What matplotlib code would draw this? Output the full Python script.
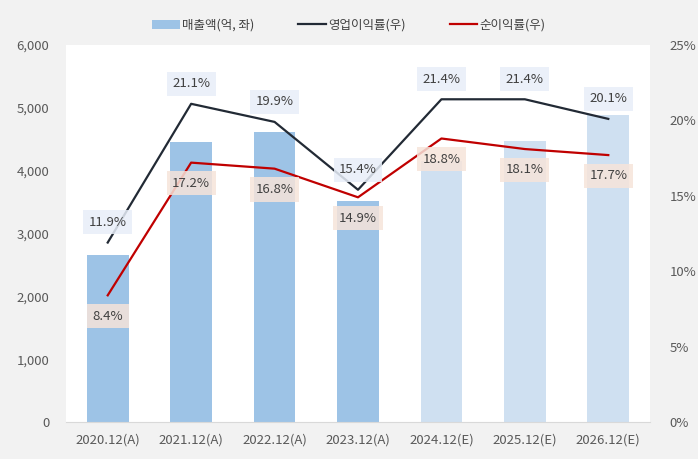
import matplotlib
matplotlib.use("Agg")
import matplotlib.pyplot as plt
from matplotlib.patches import Patch
from matplotlib.lines import Line2D
import numpy as np

plt.rcParams['font.family'] = ['Noto Sans CJK KR', 'DejaVu Sans']

categories = ["2020.12(A)", "2021.12(A)", "2022.12(A)", "2023.12(A)",
              "2024.12(E)", "2025.12(E)", "2026.12(E)"]
sales = [2650, 4450, 4620, 3510, 4160, 4470, 4890]
op_margin = [11.9, 21.1, 19.9, 15.4, 21.4, 21.4, 20.1]
net_margin = [8.4, 17.2, 16.8, 14.9, 18.8, 18.1, 17.7]
is_estimate = [False, False, False, False, True, True, True]

bg = "#f2f2f2"
bar_actual = "#9dc3e6"
bar_est = "#cfe0f1"
op_color = "#222a35"
net_color = "#c00000"
tick_color = "#595959"

fig = plt.figure(figsize=(6.98, 4.59), dpi=100, facecolor=bg)
ax = fig.add_axes([66/698, 1-422/459, (650-66)/698, (422-45)/459])
ax.set_facecolor("white")
x = np.arange(len(categories))
colors = [bar_est if e else bar_actual for e in is_estimate]
ax.bar(x, sales, width=0.5, color=colors, zorder=1)
ax.set_xlim(-0.5, len(categories)-0.5)
ax.set_ylim(0, 6000)
ax.set_yticks(np.arange(0, 6001, 1000))
ax.set_yticklabels([f"{v:,}" for v in range(0, 6001, 1000)])
ax.set_xticks(x)
ax.set_xticklabels(categories)
for s in ["top", "right", "left"]:
    ax.spines[s].set_visible(False)
ax.spines["bottom"].set_color("#d9d9d9")
ax.tick_params(axis="both", length=0, colors=tick_color, labelsize=9.5)
ax.tick_params(axis="y", pad=12)
ax.tick_params(axis="x", pad=8)

ax2 = ax.twinx()
ax2.set_ylim(0, 25)
ax2.set_yticks(np.arange(0, 26, 5))
ax2.set_yticklabels([f"{v}%" for v in range(0, 26, 5)])
for s in ["top", "right", "left", "bottom"]:
    ax2.spines[s].set_visible(False)
ax2.tick_params(axis="y", length=0, colors=tick_color, labelsize=9.5, pad=14)

ax2.plot(x, op_margin, color=op_color, lw=1.6, zorder=3)
ax2.plot(x, net_margin, color=net_color, lw=1.6, zorder=3)

for xi, v in zip(x, op_margin):
    ax2.annotate(f"{v:.1f}%", (xi, v), xytext=(0, 14.5), textcoords="offset points",
                 ha="center", va="center", fontsize=9.5, color="#404040",
                 bbox=dict(boxstyle="square,pad=0.42", fc="#e8eef8", ec="none", alpha=0.85),
                 zorder=4)
for xi, v in zip(x, net_margin):
    ax2.annotate(f"{v:.1f}%", (xi, v), xytext=(0, -15), textcoords="offset points",
                 ha="center", va="center", fontsize=9.5, color="#404040",
                 bbox=dict(boxstyle="square,pad=0.42", fc="#f6e4da", ec="none", alpha=0.85),
                 zorder=4)

handles = [Patch(facecolor=bar_actual, edgecolor="none"),
           Line2D([0], [0], color=op_color, lw=1.6),
           Line2D([0], [0], color=net_color, lw=1.6)]
labels = ["매출액(억, 좌)", "영업이익률(우)", "순이익률(우)"]
fig.legend(handles, labels, loc="center", bbox_to_anchor=(0.5, 1-25/459), ncol=3,
           frameon=False, fontsize=9, handlelength=2.2, handletextpad=0.2,
           columnspacing=3.5, labelcolor="#404040")

fig.savefig("out.png", dpi=100, facecolor=bg)
